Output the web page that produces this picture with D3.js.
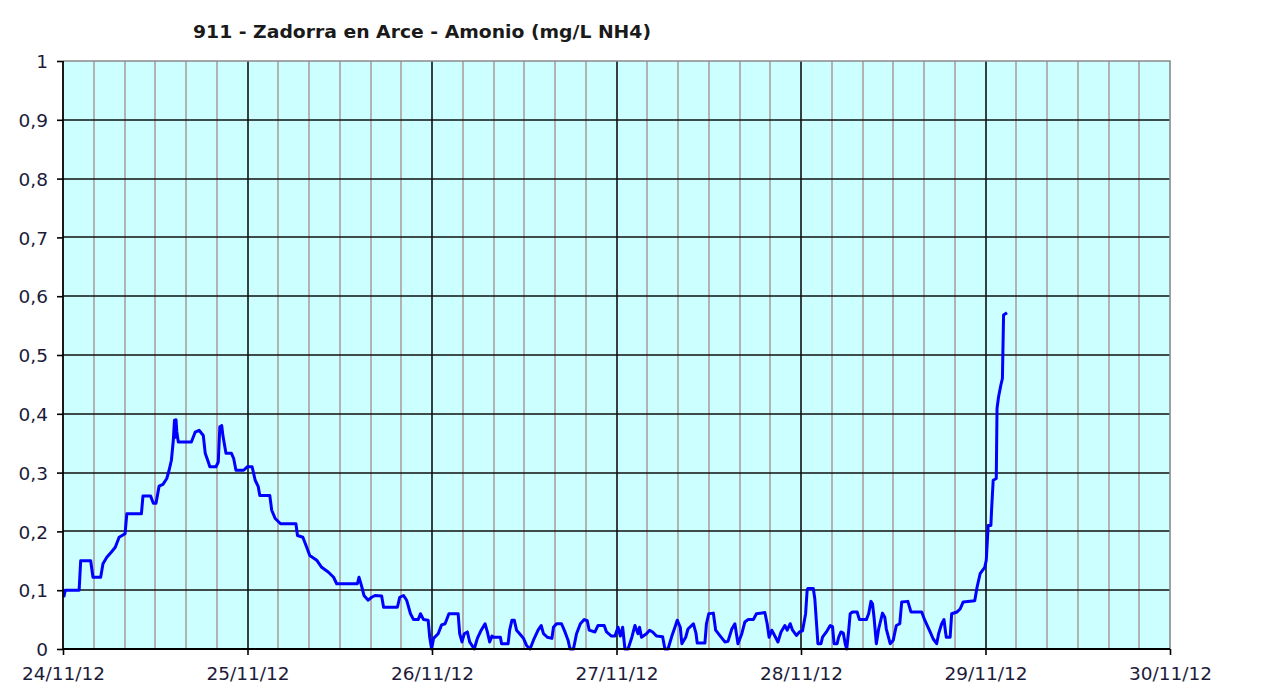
<!DOCTYPE html>
<html>
<head>
<meta charset="utf-8">
<script src="https://cdn.jsdelivr.net/npm/d3@7"></script>
<style>
  html, body { margin: 0; padding: 0; background: #ffffff; }
  svg { display: block; }
</style>
</head>
<body>
<svg id="chart" width="1265" height="689"></svg>
<script>
// ---- data ----
const chartTitle = "911 - Zadorra en Arce - Amonio (mg/L NH4)";
// hours elapsed since 24/11/12 00:00
const hours = [
  0.1, 0.3, 2.1, 2.3, 3.6, 3.9, 4.9, 5.2, 5.7, 6.3, 6.8, 7.3, 8.07, 8.3, 10.2, 10.4, 11.4, 11.75, 12.1, 12.5,
  13.0, 13.5, 13.8, 14.1, 14.35, 14.5, 14.6, 14.7, 14.8, 15.0, 16.7, 17.2, 17.7, 18.25, 18.5, 18.9, 19.1, 19.9, 20.2, 20.4,
  20.55, 20.65, 20.8, 21.2, 21.9, 22.2, 22.5, 23.5, 24.0, 24.6, 25.0, 25.4, 25.6, 26.9, 27.15, 27.6, 28.3, 30.3, 30.5, 31.2,
  31.7, 32.1, 33.0, 33.65, 34.5, 35.2, 35.6, 38.3, 38.5, 38.8, 39.15, 39.7, 40.15, 40.6, 41.45, 41.7, 43.5, 43.8, 44.3, 44.7,
  45.2, 45.6, 46.2, 46.5, 46.9, 47.5, 47.7, 47.95, 48.2, 48.8, 49.25, 49.7, 50.2, 51.4, 51.6, 51.9, 52.2, 52.6, 52.9, 53.5,
  53.9, 54.4, 54.9, 55.2, 55.5, 55.8, 56.0, 56.9, 57.05, 57.9, 58.1, 58.4, 58.7, 59.0, 59.4, 59.9, 60.3, 60.75, 61.2, 61.8,
  62.2, 62.5, 63.0, 63.6, 63.8, 64.2, 64.85, 65.3, 65.7, 65.95, 66.4, 66.8, 67.3, 67.8, 68.2, 68.45, 69.2, 69.6, 70.4, 70.7,
  71.35, 71.8, 72.2, 72.5, 72.8, 73.1, 73.5, 74.0, 74.4, 74.8, 75.0, 75.25, 75.9, 76.3, 76.7, 77.2, 78.0, 78.3, 78.7, 79.2,
  79.6, 79.9, 80.3, 80.5, 81.0, 81.3, 82.0, 82.35, 82.5, 83.5, 83.7, 84.0, 84.6, 84.9, 85.5, 86.1, 86.5, 87.0, 87.4, 87.6,
  87.8, 88.3, 88.7, 89.1, 89.8, 90.2, 91.3, 91.6, 91.85, 92.2, 92.6, 93.0, 93.4, 93.9, 94.2, 94.6, 94.9, 95.4, 95.8, 96.2,
  96.6, 96.8, 96.9, 97.6, 97.8, 98.2, 98.6, 98.8, 99.3, 99.8, 100.1, 100.3, 100.7, 100.9, 101.2, 101.5, 101.75, 101.95, 102.2, 102.4,
  102.7, 103.3, 103.6, 104.5, 104.8, 105.1, 105.3, 105.5, 105.8, 106.1, 106.6, 106.9, 107.1, 107.6, 108.0, 108.4, 108.85, 109.1, 109.9, 110.3,
  111.7, 112.1, 112.8, 113.2, 113.65, 113.9, 114.3, 114.6, 114.8, 114.9, 115.4, 115.6, 116.3, 116.7, 117.1, 118.6, 118.9, 119.3, 119.9, 120.1,
  120.35, 120.7, 120.8, 121.0, 121.4, 121.5, 121.7, 122.0, 122.2, 122.35, 122.8
];
const nh4 = [
  0.088, 0.10, 0.10, 0.15, 0.15, 0.122, 0.122, 0.145, 0.156, 0.165, 0.173, 0.19, 0.196, 0.23, 0.23, 0.26, 0.26, 0.248, 0.248, 0.277,
  0.28, 0.29, 0.304, 0.321, 0.355, 0.389, 0.36, 0.39, 0.37, 0.352, 0.352, 0.369, 0.372, 0.363, 0.333, 0.318, 0.31, 0.31, 0.318, 0.378,
  0.37, 0.38, 0.363, 0.333, 0.333, 0.324, 0.304, 0.304, 0.31, 0.31, 0.287, 0.276, 0.261, 0.261, 0.236, 0.222, 0.213, 0.213, 0.193, 0.19,
  0.173, 0.159, 0.151, 0.139, 0.131, 0.122, 0.111, 0.111, 0.122, 0.109, 0.091, 0.083, 0.088, 0.091, 0.09, 0.071, 0.071, 0.088, 0.091, 0.083,
  0.06, 0.05, 0.05, 0.06, 0.05, 0.049, 0.02, 0.0, 0.018, 0.026, 0.041, 0.043, 0.06, 0.06, 0.026, 0.012, 0.026, 0.029, 0.012, 0.0,
  0.018, 0.032, 0.043, 0.029, 0.012, 0.022, 0.02, 0.02, 0.009, 0.009, 0.032, 0.049, 0.049, 0.032, 0.026, 0.018, 0.006, 0.0, 0.015, 0.032,
  0.04, 0.026, 0.02, 0.018, 0.037, 0.043, 0.043, 0.029, 0.015, 0.0, 0.0, 0.026, 0.043, 0.05, 0.048, 0.032, 0.029, 0.04, 0.04, 0.029,
  0.022, 0.022, 0.037, 0.022, 0.037, 0.0, 0.0, 0.02, 0.04, 0.026, 0.037, 0.02, 0.026, 0.032, 0.029, 0.022, 0.021, 0.0, 0.0, 0.022,
  0.037, 0.049, 0.037, 0.009, 0.02, 0.034, 0.043, 0.026, 0.01, 0.01, 0.043, 0.06, 0.061, 0.032, 0.022, 0.012, 0.013, 0.034, 0.043, 0.026,
  0.009, 0.026, 0.046, 0.05, 0.05, 0.06, 0.062, 0.043, 0.02, 0.032, 0.022, 0.012, 0.029, 0.04, 0.032, 0.043, 0.032, 0.023, 0.029, 0.031,
  0.06, 0.1, 0.103, 0.103, 0.085, 0.009, 0.009, 0.02, 0.029, 0.04, 0.038, 0.009, 0.009, 0.02, 0.029, 0.027, 0.009, 0.0, 0.031, 0.06,
  0.063, 0.063, 0.05, 0.05, 0.06, 0.081, 0.077, 0.054, 0.009, 0.034, 0.061, 0.054, 0.034, 0.009, 0.015, 0.04, 0.043, 0.08, 0.081, 0.063,
  0.063, 0.049, 0.029, 0.017, 0.009, 0.026, 0.043, 0.05, 0.029, 0.02, 0.02, 0.06, 0.063, 0.068, 0.08, 0.082, 0.105, 0.128, 0.139, 0.151,
  0.21, 0.21, 0.239, 0.287, 0.29, 0.409, 0.429, 0.449, 0.46, 0.568, 0.572
];
const yTicks = [0, 0.1, 0.2, 0.3, 0.4, 0.5, 0.6, 0.7, 0.8, 0.9, 1];
const yTickLabels = ["0", "0,1", "0,2", "0,3", "0,4", "0,5", "0,6", "0,7", "0,8", "0,9", "1"];
const xTickLabels = ["24/11/12", "25/11/12", "26/11/12", "27/11/12", "28/11/12", "29/11/12", "30/11/12"];

// ---- layout ----
const startMs = Date.UTC(2012, 10, 24);
const toDate = h => new Date(startMs + h * 3600e3);
const plot = { left: 63, right: 1170, top: 61, bottom: 649 };

const svg = d3.select("#chart");
const x = d3.scaleUtc().domain([toDate(0), toDate(144)]).range([plot.left, plot.right]);
const y = d3.scaleLinear().domain([0, 1]).range([plot.bottom, plot.top]);

// background
svg.append("rect")
  .attr("x", plot.left).attr("y", plot.top)
  .attr("width", plot.right - plot.left).attr("height", plot.bottom - plot.top)
  .attr("fill", "#ccffff");

// minor vertical gridlines (every 4h)
const minorTimes = d3.utcHour.every(4).range(toDate(0), toDate(144)).filter(d => d.getUTCHours() !== 0);
svg.append("g").selectAll("line").data(minorTimes).join("line")
  .attr("x1", d => Math.round(x(d))).attr("x2", d => Math.round(x(d)))
  .attr("y1", plot.top).attr("y2", plot.bottom)
  .attr("stroke", "#b2b2b2").attr("stroke-width", 2);

// major vertical gridlines (days)
const dayTimes = d3.utcDay.range(toDate(0), toDate(144.01));
svg.append("g").selectAll("line").data(dayTimes.slice(1, 6)).join("line")
  .attr("x1", d => Math.round(x(d))).attr("x2", d => Math.round(x(d)))
  .attr("y1", plot.top).attr("y2", plot.bottom)
  .attr("stroke", "#111").attr("stroke-width", 1.6);

// horizontal gridlines
svg.append("g").selectAll("line").data(yTicks.slice(1, 10)).join("line")
  .attr("x1", plot.left).attr("x2", plot.right)
  .attr("y1", d => Math.round(y(d))).attr("y2", d => Math.round(y(d)))
  .attr("stroke", "#111").attr("stroke-width", 1.6);

// top and right border (gray)
svg.append("path")
  .attr("d", `M${plot.left},${plot.top}H${plot.right}V${plot.bottom}`)
  .attr("fill", "none").attr("stroke", "#8a8a8a").attr("stroke-width", 1.6);

// data line
const data = hours.map((h, i) => ({ t: toDate(h), v: nh4[i] }));
svg.append("path")
  .datum(data)
  .attr("fill", "none")
  .attr("stroke", "#0000ff")
  .attr("stroke-width", 3)
  .attr("stroke-linejoin", "round")
  .attr("d", d3.line().x(d => x(d.t)).y(d => y(d.v)));

// axes
const fontFam = "'DejaVu Sans', Verdana, sans-serif";
const yAxis = svg.append("g")
  .attr("transform", `translate(${plot.left},0)`)
  .call(d3.axisLeft(y).tickValues(yTicks).tickSize(6).tickPadding(9)
    .tickFormat((d, i) => yTickLabels[i]));
yAxis.select(".domain").attr("stroke", "#000").attr("stroke-width", 1.8).attr("d", `M0,${plot.top}V${plot.bottom}`);
yAxis.selectAll(".tick line").attr("stroke", "#000").attr("stroke-width", 1.6);
yAxis.selectAll(".tick text")
  .attr("font-family", fontFam).attr("font-size", 18.5).attr("fill", "#1c1c3a")
  .attr("dy", "0.36em");

const xAxis = svg.append("g")
  .attr("transform", `translate(0,${plot.bottom})`)
  .call(d3.axisBottom(x).tickValues(dayTimes).tickSize(6).tickPadding(12)
    .tickFormat((d, i) => xTickLabels[i]));
xAxis.select(".domain").attr("stroke", "#000").attr("stroke-width", 1.8).attr("d", `M${plot.left},0H${plot.right}`);
xAxis.selectAll(".tick line").attr("stroke", "#000").attr("stroke-width", 1.6);
xAxis.selectAll(".tick text")
  .attr("font-family", fontFam).attr("font-size", 18.5).attr("fill", "#1c1c3a");

// title
svg.append("text")
  .attr("x", 193).attr("y", 38)
  .attr("font-family", fontFam).attr("font-weight", "bold").attr("font-size", 17.5)
  .attr("fill", "#1a1a1a")
  .attr("textLength", 458).attr("lengthAdjust", "spacingAndGlyphs")
  .text(chartTitle);
</script>
</body>
</html>
